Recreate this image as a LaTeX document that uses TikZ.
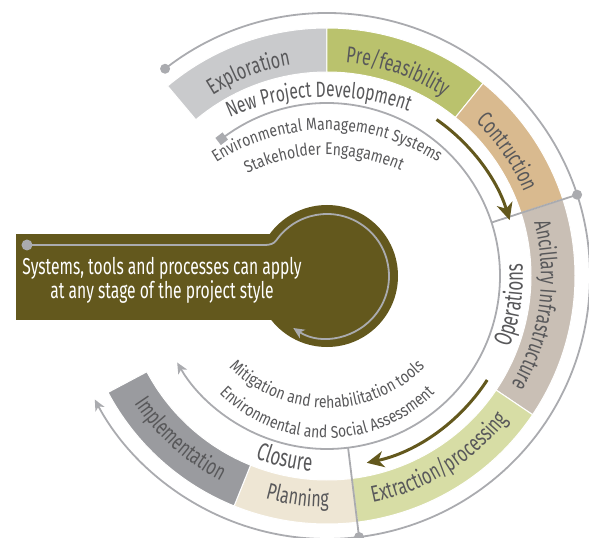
\documentclass[tikz,border=0pt]{standalone}
\usepackage{fontspec}
\setmainfont{Fira Sans}[FakeStretch=0.68]
\newfontfamily\stagefamily{Fira Sans}[FakeStretch=0.70]
\newfontfamily\npdfamily{Fira Sans}[FakeStretch=0.71]
\newfontfamily\toolfamily{Fira Sans}[FakeStretch=0.82]
\usetikzlibrary{arrows.meta,decorations.text}
\definecolor{exploration}{RGB}{201,202,204}
\definecolor{feasibility}{RGB}{186,194,109}
\definecolor{construction}{RGB}{217,186,143}
\definecolor{ancillary}{RGB}{201,191,181}
\definecolor{extraction}{RGB}{215,221,165}
\definecolor{planning}{RGB}{238,230,212}
\definecolor{implementation}{RGB}{154,155,159}
\definecolor{hub}{RGB}{99,88,29}
\definecolor{ringline}{RGB}{170,171,175}
\definecolor{labeltext}{RGB}{88,88,90}
\newcommand{\stagefont}{\stagefamily\fontsize{23}{23}\selectfont}
\newcommand{\npdfont}{\npdfamily\fontsize{22}{22}\selectfont}
\newcommand{\phasefont}{\fontsize{25}{25}\selectfont}
\newcommand{\toolfont}{\toolfamily\fontsize{17}{17}\selectfont}
\newcommand{\hubfont}{\fontsize{23}{21.5}\selectfont}
\newcommand{\stageband}[3]{\fill[#1,draw=white,line width=1pt] (#2:204) arc[start angle=#2,end angle=#3,radius=204] -- (#3:248) arc[start angle=#3,end angle=#2,radius=248] -- cycle;}
\newcommand{\arctext}[6]{\path[decorate,decoration={text along path,text align=center,text color=labeltext,text={|#1|#2}}] ([shift={#3}]#4:#6) arc[start angle=#4,end angle=#5,radius=#6];}
\tikzstyle{ring}=[draw=ringline,line width=1.8pt]
\tikzstyle{dot}=[circle,fill=ringline,inner sep=0pt,minimum size=10pt]
\tikzstyle{flow}=[draw=hub,line width=3pt,-{Stealth[length=17pt,width=16pt,inset=5pt]}]
\tikzset{ringhead/.style={-{Stealth[length=11pt,width=10pt,inset=3pt]}}}

\begin{document}
\begin{tikzpicture}[x=1pt,y=1pt]
  \useasboundingbox (-327,-262) rectangle (262,276);
  %% Stage bands
  \stageband{exploration}{90}{130}
  \stageband{feasibility}{51}{90}
  \stageband{construction}{18}{51}
  \stageband{ancillary}{-34}{18}
  \stageband{extraction}{-83}{-34}
  \stageband{planning}{-112}{-83}
  \stageband{implementation}{-152}{-112}

  %% Rings
  \draw (128:263) node[dot] (outerstart) {};
  \draw[ring,ringhead] (outerstart.center) arc[start angle=128,end angle=-152,radius=263];
  \draw (127.5:173) node[rectangle,fill=ringline,minimum size=9pt,inner sep=0pt,rotate=37.5] (innerstart) {};
  \draw[ring,ringhead] (innerstart.center) arc[start angle=127.5,end angle=-150,radius=173];

  \coordinate (opsin) at (18:173);
  \draw (18:263) node[dot] (opsout) {};
  \draw[ring] (opsin) -- (opsout.center);
  \coordinate (closein) at (-83:173);
  \draw (-83:263) node[dot] (closeout) {};
  \draw[ring] (closein) -- (closeout.center);

  %% Flow arrows
  \draw[flow] (55:191) arc[start angle=55,end angle=17,radius=191];
  \draw[flow] (-33:191) arc[start angle=-33,end angle=-78,radius=191];

  %% Hub
  \fill[hub] (-311,-44) rectangle (-20,42);
  \fill[hub] (0,0) circle[radius=71];
  \draw (-300,31) node[dot,minimum size=11pt] (hubstart) {};
  \draw[ring,ringhead] (hubstart.center) -- (-62,31) .. controls (-57,31) and (-53.1,32.3) .. (145:62) arc[start angle=145,end angle=-123,radius=62];
  \draw (-165,-4) node[text=white,align=center,font=\hubfont] (hubtext) {Systems, tools and processes can apply\\at any stage of the project style};

  %% Stage labels
  \arctext{\stagefont}{Exploration}{(0,0)}{135}{87}{214}
  \arctext{\stagefont}{Pre/feasibility}{(0,0)}{95}{47}{214}
  \arctext{\stagefont}{Contruction}{(0,0)}{60}{9}{214}
  \arctext{\stagefont}{Ancillary Infrastructure}{(0,0)}{27}{-43}{214}
  \arctext{\stagefont}{Extraction/processing}{(0,0)}{-95}{-22}{231}
  \arctext{\stagefont}{Planning}{(0,0)}{-120}{-75}{231}
  \arctext{\stagefont}{Implementation}{(0,0)}{-162}{-102}{231}

  %% Phase labels
  \arctext{\npdfont}{New Project Development}{(0,-60)}{132}{52}{239}
  \arctext{\phasefont}{Operations}{(0,0)}{-40}{22}{196}
  \arctext{\phasefont}{Closure}{(0,0)}{-125}{-81}{196}

  %% Tool labels
  \arctext{\toolfont}{Environmental Management Systems}{(0,-60)}{135}{45}{206}
  \arctext{\toolfont}{Stakeholder Engagament}{(0,-60)}{136}{46}{181}
  \arctext{\toolfont}{Mitigation and rehabilitation tools}{(0,6)}{-150}{-30}{138}
  \arctext{\toolfont}{Environmental and Social Assessment}{(0,-10)}{-155}{-25}{152}
\end{tikzpicture}
\end{document}
